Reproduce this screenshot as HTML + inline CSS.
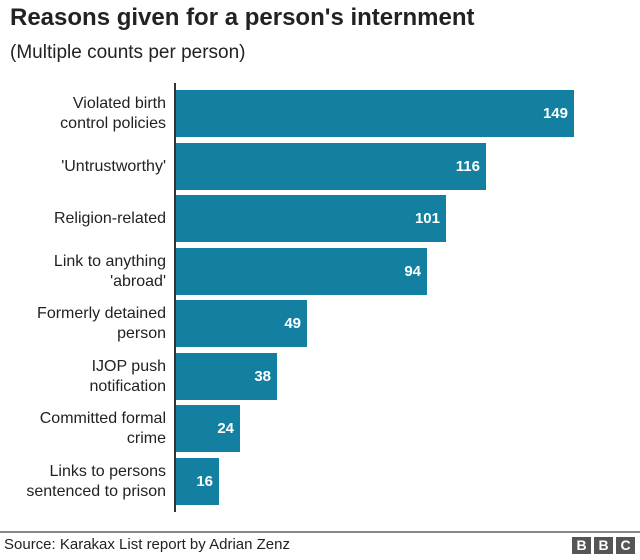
<!DOCTYPE html>
<html><head><style>
body{margin:0;width:640px;height:560px;background:#fff;font-family:"Liberation Sans",Arial,sans-serif;position:relative;overflow:hidden;color:#222}
.t{position:absolute;left:10px;top:4px;font-size:24px;font-weight:bold;color:#222}
.s{position:absolute;left:10px;top:42px;font-size:19px;color:#222}
.ax{position:absolute;left:174px;top:83px;width:2px;height:429px;background:#333}
.bar{position:absolute;left:176px;height:47px;background:#1380A1}
.bar span{position:absolute;right:6px;top:0;line-height:47px;color:#fff;font-weight:bold;font-size:15px}
.lab{position:absolute;right:474px;width:170px;text-align:right;font-size:16px;line-height:20px;color:#222;display:flex;align-items:center;justify-content:flex-end;height:47px}
.foot{position:absolute;left:0;top:531px;width:640px;height:2px;background:#888}
.src{position:absolute;left:4px;top:536px;font-size:15px;color:#222}
.bbc{position:absolute;top:537px;width:19px;height:17px;background:#555;color:#fff;font-weight:bold;font-size:14px;text-align:center;line-height:17px}
</style></head><body>
<div class="t">Reasons given for a person's internment</div>
<div class="s">(Multiple counts per person)</div>
<div class="ax"></div>

<div class="lab" style="top:90px">Violated birth<br>control policies</div>
<div class="bar" style="top:90px;width:398px"><span>149</span></div>
<div class="lab" style="top:143px">'Untrustworthy'</div>
<div class="bar" style="top:143px;width:310px"><span>116</span></div>
<div class="lab" style="top:195px">Religion-related</div>
<div class="bar" style="top:195px;width:270px"><span>101</span></div>
<div class="lab" style="top:248px">Link to anything<br>'abroad'</div>
<div class="bar" style="top:248px;width:251px"><span>94</span></div>
<div class="lab" style="top:300px">Formerly detained<br>person</div>
<div class="bar" style="top:300px;width:131px"><span>49</span></div>
<div class="lab" style="top:353px">IJOP push<br>notification</div>
<div class="bar" style="top:353px;width:101px"><span>38</span></div>
<div class="lab" style="top:405px">Committed formal<br>crime</div>
<div class="bar" style="top:405px;width:64px"><span>24</span></div>
<div class="lab" style="top:458px">Links to persons<br>sentenced to prison</div>
<div class="bar" style="top:458px;width:43px"><span>16</span></div>

<div class="foot"></div>
<div class="src">Source: Karakax List report by Adrian Zenz</div>
<div class="bbc" style="left:572px">B</div>
<div class="bbc" style="left:594px">B</div>
<div class="bbc" style="left:616px">C</div>
</body></html>
